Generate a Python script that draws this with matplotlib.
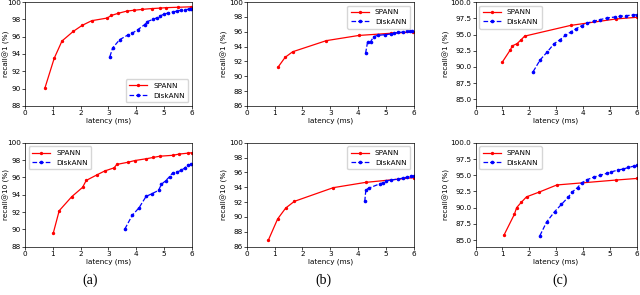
import matplotlib
matplotlib.use("Agg")
import matplotlib.pyplot as plt
from matplotlib.ticker import FormatStrFormatter

# ---- data ----
# top row: recall@1
a1_spann_x = [0.72, 1.05, 1.33, 1.73, 2.05, 2.4, 2.95, 3.1, 3.35, 3.65, 3.9, 4.2, 4.55, 4.85, 5.05, 5.5, 5.95]
a1_spann_y = [90.1, 93.5, 95.5, 96.6, 97.3, 97.85, 98.15, 98.45, 98.7, 98.95, 99.05, 99.15, 99.25, 99.3, 99.35, 99.4, 99.45]
a1_disk_x = [3.05, 3.15, 3.4, 3.7, 3.85, 4.05, 4.3, 4.4, 4.6, 4.75, 4.85, 5.0, 5.15, 5.3, 5.45, 5.6, 5.75, 5.9, 5.98]
a1_disk_y = [93.7, 94.7, 95.65, 96.2, 96.4, 96.8, 97.4, 97.75, 98.0, 98.2, 98.4, 98.6, 98.75, 98.85, 98.95, 99.05, 99.1, 99.2, 99.25]

b1_spann_x = [1.12, 1.38, 1.65, 2.86, 4.03, 5.2, 5.98]
b1_spann_y = [91.2, 92.55, 93.3, 94.8, 95.5, 95.8, 95.95]
b1_disk_x = [4.27, 4.34, 4.45, 4.56, 4.7, 4.95, 5.2, 5.3, 5.45, 5.6, 5.75, 5.85, 5.95]
b1_disk_y = [93.1, 94.6, 94.65, 95.35, 95.5, 95.6, 95.7, 95.8, 95.9, 95.95, 96.05, 96.1, 96.1]

c1_spann_x = [0.99, 1.3, 1.37, 1.55, 1.7, 1.83, 3.54, 5.24, 6.0]
c1_spann_y = [90.7, 92.65, 93.25, 93.6, 94.2, 94.75, 96.4, 97.4, 97.65]
c1_disk_x = [2.15, 2.41, 2.68, 2.93, 3.15, 3.35, 3.55, 3.75, 3.95, 4.15, 4.4, 4.65, 4.9, 5.2, 5.4, 5.6, 5.85, 6.0]
c1_disk_y = [89.3, 91.1, 92.35, 93.6, 94.2, 94.85, 95.4, 95.9, 96.35, 96.75, 97.05, 97.3, 97.55, 97.7, 97.8, 97.9, 98.0, 98.05]

# bottom row: recall@10
a10_spann_x = [1.02, 1.23, 1.68, 2.07, 2.2, 2.59, 2.87, 3.2, 3.3, 3.7, 3.95, 4.35, 4.6, 4.85, 5.3, 5.55, 5.85, 6.0]
a10_spann_y = [89.6, 92.15, 93.77, 94.85, 95.65, 96.3, 96.75, 97.1, 97.5, 97.75, 97.95, 98.15, 98.3, 98.45, 98.55, 98.7, 98.8, 98.85]
a10_disk_x = [3.59, 3.85, 4.1, 4.35, 4.55, 4.8, 4.9, 5.05, 5.2, 5.3, 5.45, 5.6, 5.75, 5.85, 5.95]
a10_disk_y = [90.05, 91.6, 92.5, 93.8, 94.1, 94.5, 95.2, 95.6, 96.1, 96.5, 96.6, 96.8, 97.1, 97.4, 97.5]

b10_spann_x = [0.78, 1.11, 1.4, 1.71, 3.11, 4.27, 6.0]
b10_spann_y = [86.9, 89.73, 91.2, 92.1, 93.95, 94.66, 95.3]
b10_disk_x = [4.24, 4.28, 4.4, 4.8, 4.9, 5.0, 5.2, 5.45, 5.6, 5.75, 5.9, 6.0]
b10_disk_y = [92.1, 93.7, 93.9, 94.5, 94.6, 94.85, 95.0, 95.1, 95.25, 95.35, 95.5, 95.55]

c10_spann_x = [1.07, 1.45, 1.53, 1.7, 1.9, 2.37, 3.03, 5.24, 6.0]
c10_spann_y = [85.85, 89.0, 90.0, 90.8, 91.67, 92.4, 93.5, 94.26, 94.5]
c10_disk_x = [2.4, 2.65, 2.95, 3.2, 3.45, 3.6, 3.8, 3.95, 4.15, 4.4, 4.65, 4.9, 5.05, 5.3, 5.5, 5.7, 5.9, 6.0]
c10_disk_y = [85.7, 87.8, 89.4, 90.5, 91.6, 92.4, 93.1, 93.8, 94.3, 94.7, 95.0, 95.3, 95.5, 95.8, 95.95, 96.2, 96.4, 96.5]

FS = 5.2

panels = [
    # (rect, spann, disk, ylabel, ylim, yticks, fmt, legend loc, ylabel x)
    ([0.039, 0.641, 0.261, 0.352], (a1_spann_x, a1_spann_y), (a1_disk_x, a1_disk_y),
     "recall@1 (%)", (88, 100), [88, 90, 92, 94, 96, 98, 100], "%d", "lower right", -0.09),
    ([0.3855, 0.641, 0.261, 0.352], (b1_spann_x, b1_spann_y), (b1_disk_x, b1_disk_y),
     "recall@1 (%)", (86, 100), [86, 88, 90, 92, 94, 96, 98, 100], "%d", "upper right", -0.11),
    ([0.743, 0.641, 0.2516, 0.352], (c1_spann_x, c1_spann_y), (c1_disk_x, c1_disk_y),
     "recall@1 (%)", (84, 100), [85, 87.5, 90, 92.5, 95, 97.5, 100], "%.1f", "upper left", -0.16),
    ([0.039, 0.164, 0.261, 0.352], (a10_spann_x, a10_spann_y), (a10_disk_x, a10_disk_y),
     "recall@10 (%)", (88, 100), [88, 90, 92, 94, 96, 98, 100], "%d", "upper left", -0.09),
    ([0.3855, 0.164, 0.261, 0.352], (b10_spann_x, b10_spann_y), (b10_disk_x, b10_disk_y),
     "recall@10 (%)", (86, 100), [86, 88, 90, 92, 94, 96, 98, 100], "%d", "upper right", -0.11),
    ([0.743, 0.164, 0.2516, 0.352], (c10_spann_x, c10_spann_y), (c10_disk_x, c10_disk_y),
     "recall@10 (%)", (84, 100), [85, 87.5, 90, 92.5, 95, 97.5, 100], "%.1f", "upper left", -0.16),
]

fig = plt.figure(figsize=(6.4, 2.95), dpi=100)

for rect, sp, dk, ylab, ylim, yt, fmt, loc, ylx in panels:
    ax = fig.add_axes(rect)
    ax.plot(sp[0], sp[1], "-", color="red", marker="o", markersize=1.4, lw=0.9, label="SPANN")
    ax.plot(dk[0], dk[1], "--", color="blue", marker="o", markersize=1.6, lw=0.9, label="DiskANN")
    ax.set_xlim(0, 6)
    ax.set_ylim(*ylim)
    ax.set_yticks(yt)
    ax.set_xticks(range(0, 7))
    ax.yaxis.set_major_formatter(FormatStrFormatter(fmt))
    ax.tick_params(labelsize=FS, length=2, width=0.5, pad=1)
    for s in ax.spines.values():
        s.set_linewidth(0.5)
    ax.set_xlabel("latency (ms)", fontsize=FS, labelpad=1)
    ax.set_ylabel(ylab, fontsize=FS)
    ax.yaxis.set_label_coords(ylx, 0.5)
    ax.legend(loc=loc, fontsize=FS, handlelength=2.5, borderpad=0.5, labelspacing=0.5,
              frameon=True, fancybox=True, framealpha=0.8, edgecolor="#cccccc")

for x, lab in [(0.141, "(a)"), (0.505, "(b)"), (0.875, "(c)")]:
    fig.text(x, 0.05, lab, ha="center", va="center", fontsize=10, family="Liberation Serif")

fig.savefig("out.png", dpi=100)
